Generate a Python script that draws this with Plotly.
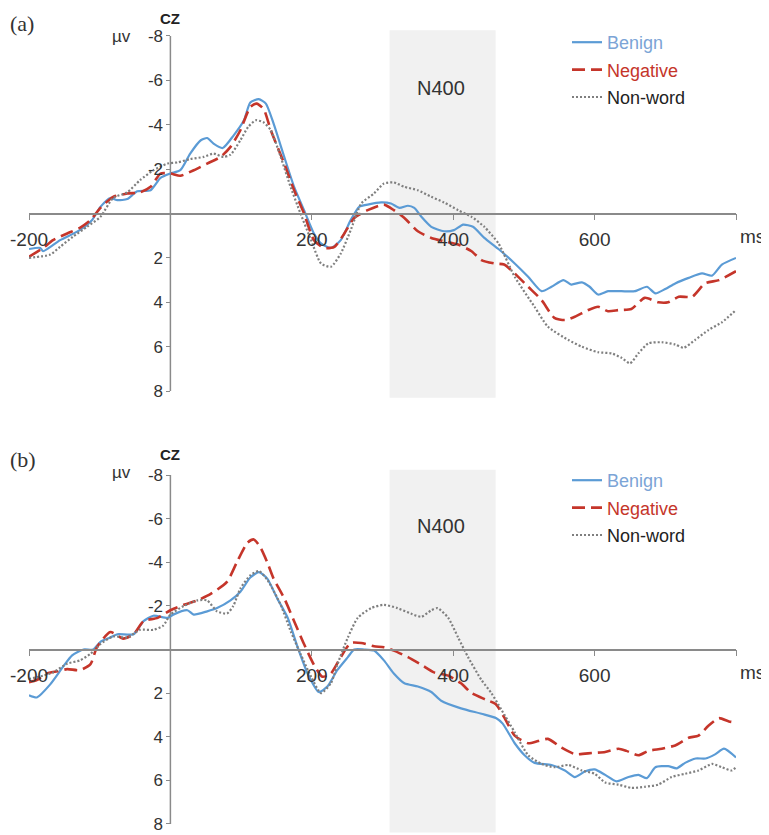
import plotly.graph_objects as go

# ---------------- data (time in ms, amplitude in µV) ----------------
a_benign_t = [-200, -184, -180, -156, -128, -111, -99, -85, -75, -61, -47, -28, -14, 0, 14, 28, 43, 52, 61, 74, 89, 104, 113, 125, 135, 146, 161, 175, 189, 203, 213, 227, 241, 255, 267, 279, 298, 312, 324, 336, 345, 355, 369, 387, 401, 414, 428, 444, 464, 487, 506, 525, 539, 556, 567, 582, 593, 605, 619, 638, 657, 674, 686, 700, 714, 733, 752, 766, 780, 800]
a_benign_v = [1.6, 1.55, 1.7, 1.2, 0.75, 0.3, -0.3, -0.7, -0.6, -0.65, -1.0, -1.05, -1.6, -1.8, -1.95, -2.7, -3.3, -3.4, -3.15, -2.95, -3.5, -4.2, -5.0, -5.15, -4.95, -4.05, -2.55, -1.2, -0.15, 0.9, 1.35, 1.55, 1.2, 0.3, -0.3, -0.4, -0.5, -0.45, -0.25, -0.35, -0.25, 0.15, 0.6, 0.8, 0.75, 0.5, 0.6, 1.1, 1.6, 2.25, 2.85, 3.5, 3.3, 3.0, 3.2, 3.1, 3.3, 3.65, 3.5, 3.5, 3.5, 3.3, 3.6, 3.4, 3.15, 2.9, 2.7, 2.8, 2.3, 2.0]

a_negative_t = [-200, -180, -166, -146, -128, -113, -99, -81, -61, -43, -28, -14, 0, 14, 33, 52, 71, 85, 99, 113, 122, 132, 142, 161, 175, 189, 203, 217, 232, 246, 260, 279, 302, 316, 331, 350, 369, 387, 407, 426, 440, 458, 472, 487, 506, 525, 543, 558, 572, 591, 605, 619, 634, 652, 671, 690, 704, 719, 738, 756, 776, 800]
a_negative_v = [1.95, 1.55, 1.2, 0.9, 0.65, 0.3, -0.25, -0.75, -0.9, -0.95, -1.2, -1.8, -1.8, -1.7, -1.95, -2.25, -2.55, -3.0, -3.75, -4.8, -4.95, -4.7, -3.75, -2.25, -1.05, 0.0, 1.2, 1.55, 1.5, 0.9, 0.2, -0.15, -0.4, -0.15, 0.2, 0.8, 1.1, 1.25, 1.4, 1.7, 2.1, 2.25, 2.3, 2.7, 3.3, 3.9, 4.7, 4.8, 4.65, 4.35, 4.2, 4.4, 4.35, 4.3, 3.8, 4.0, 4.0, 3.75, 3.75, 3.15, 3.0, 2.6]

a_nonword_t = [-200, -170, -156, -138, -118, -99, -81, -61, -43, -24, -4, 10, 28, 47, 61, 75, 85, 99, 110, 121, 132, 142, 156, 170, 184, 199, 213, 227, 241, 255, 270, 288, 302, 316, 331, 350, 369, 387, 407, 426, 444, 464, 487, 515, 534, 563, 582, 605, 624, 638, 650, 662, 676, 695, 714, 726, 742, 761, 780, 800]
a_nonword_v = [2.0, 1.85, 1.5, 1.05, 0.6, 0.15, -0.7, -0.95, -1.5, -1.95, -2.25, -2.3, -2.45, -2.55, -2.7, -2.55, -2.65, -3.3, -3.9, -4.2, -4.1, -3.75, -2.55, -1.2, 0.0, 1.2, 2.25, 2.4, 1.8, 0.75, -0.45, -0.9, -1.35, -1.4, -1.2, -1.05, -0.75, -0.5, -0.15, 0.15, 0.6, 1.35, 2.85, 4.2, 5.1, 5.7, 6.0, 6.25, 6.3, 6.5, 6.75, 6.3, 5.85, 5.8, 5.9, 6.05, 5.7, 5.25, 4.9, 4.35]

b_benign_t = [-200, -189, -170, -152, -139, -123, -109, -99, -85, -75, -52, -38, -24, -4, 4, 24, 33, 52, 66, 85, 99, 113, 125, 137, 151, 166, 180, 194, 210, 222, 236, 251, 260, 274, 288, 302, 316, 331, 350, 369, 383, 411, 440, 461, 470, 487, 501, 515, 539, 558, 572, 586, 600, 615, 631, 648, 662, 674, 686, 704, 716, 728, 743, 757, 771, 783, 800]
b_benign_v = [2.1, 2.2, 1.6, 0.8, 0.27, 0.0, 0.0, -0.35, -0.55, -0.7, -0.7, -1.3, -1.55, -1.45, -1.6, -1.8, -1.6, -1.75, -1.9, -2.25, -2.65, -3.3, -3.55, -3.25, -2.35, -1.45, -0.1, 1.1, 1.95, 1.7, 0.95, 0.35, 0.0, 0.0, 0.05, 0.5, 1.1, 1.55, 1.7, 1.95, 2.35, 2.7, 2.95, 3.15, 3.4, 4.3, 4.85, 5.2, 5.3, 5.55, 5.85, 5.6, 5.5, 5.75, 6.05, 5.85, 5.75, 5.9, 5.4, 5.35, 5.45, 5.2, 5.0, 5.0, 4.8, 4.55, 4.95]

b_negative_t = [-200, -189, -175, -160, -146, -128, -113, -104, -85, -67, -52, -38, -18, 0, 19, 38, 57, 80, 94, 109, 118, 127, 137, 146, 161, 175, 189, 203, 215, 227, 241, 255, 270, 288, 302, 316, 336, 355, 373, 393, 411, 426, 446, 460, 472, 487, 506, 520, 534, 553, 572, 596, 615, 634, 645, 662, 676, 695, 714, 733, 747, 761, 776, 790, 800]
b_negative_v = [1.5, 1.4, 1.1, 1.0, 0.9, 0.95, 0.67, -0.1, -0.8, -0.5, -0.7, -1.3, -1.45, -1.8, -2.05, -2.25, -2.55, -3.1, -4.0, -4.9, -5.05, -4.7, -4.0, -3.25, -2.35, -1.3, -0.25, 0.7, 1.25, 1.1, 0.35, -0.3, -0.3, -0.15, -0.1, 0.05, 0.35, 0.7, 1.05, 1.2, 1.55, 2.0, 2.3, 2.5, 3.1, 3.95, 4.3, 4.2, 4.1, 4.5, 4.8, 4.75, 4.7, 4.55, 4.65, 4.85, 4.65, 4.55, 4.4, 4.05, 3.95, 3.5, 3.15, 3.3, 3.35]

b_nonword_t = [-200, -180, -166, -146, -128, -113, -99, -81, -61, -43, -24, -10, 0, 19, 38, 52, 66, 80, 89, 99, 113, 125, 137, 156, 170, 184, 199, 213, 227, 236, 251, 265, 284, 302, 321, 340, 355, 369, 378, 393, 407, 421, 440, 454, 468, 487, 506, 525, 543, 563, 582, 600, 615, 634, 652, 671, 690, 709, 728, 747, 766, 780, 794, 800]
b_nonword_v = [1.35, 1.2, 1.05, 0.65, 0.5, 0.2, -0.25, -0.6, -0.55, -0.9, -0.9, -1.1, -1.6, -2.0, -2.25, -2.25, -1.75, -1.65, -2.0, -2.8, -3.4, -3.6, -3.2, -2.05, -0.85, 0.2, 1.25, 2.0, 1.55, 0.7, -0.55, -1.45, -1.9, -2.05, -1.9, -1.65, -1.5, -1.8, -1.9, -1.45, -0.55, 0.35, 1.4, 2.0, 2.75, 3.8, 4.85, 5.25, 5.4, 5.3, 5.55, 5.7, 6.1, 6.2, 6.35, 6.3, 6.2, 5.85, 5.7, 5.55, 5.25, 5.4, 5.55, 5.4]

x_tickvals = [-200, 200, 400, 600, 800]
x_ticktext = ["-200", "200", "400", "600", ""]
y_tickvals = [-8, -6, -4, -2, 2, 4, 6, 8]
y_ticktext = ["-8", "-6", "-4", "-2", "2", "4", "6", "8"]
n400_window = [310, 460]
series_names = ["Benign", "Negative", "Non-word"]
panel_labels = ["(a)", "(b)"]

# ---------------- layout geometry ----------------
# The page body has an 8px margin, so the figure is made 8px smaller and all
# reference pixel positions are shifted by that amount.
OFF = 8
W, H = 769 - OFF, 835 - OFF
FONT = "Liberation Sans, Arial, sans-serif"
X_L, X_R = 29, 736            # reference pixel of -200 ms and 800 ms
ZERO_X = X_L + (X_R - X_L) * 200 / 1000
panels = [
    dict(zero=213.5, s=22.2, top=-8.3, bottom=8.3, legend_top=24),
    dict(zero=649.5, s=21.8, top=-8.3, bottom=8.4, legend_top=462),
]


def px_x(p):
    return (p - OFF) / W


def px_y(p):
    return 1 - (p - OFF) / H


line_styles = [
    dict(color="#5b9bd5", width=2.2, dash="solid"),
    dict(color="#c5352a", width=2.6, dash="13px,6px"),
    dict(color="#7f7f7f", width=2.2, dash="2px,2px"),
]
name_colors = ["#7ba4d6", "#c5352a", "#222222"]

data = [
    [(a_benign_t, a_benign_v), (a_negative_t, a_negative_v), (a_nonword_t, a_nonword_v)],
    [(b_benign_t, b_benign_v), (b_negative_t, b_negative_v), (b_nonword_t, b_nonword_v)],
]

fig = go.Figure()
annotations = []
shapes = []

for i, (p, series) in enumerate(zip(panels, data)):
    sfx = "" if i == 0 else str(i + 1)
    xa, ya = "x" + sfx, "y" + sfx
    leg = "legend" + sfx
    S = p["s"]
    for j, (t, v) in enumerate(series):
        fig.add_trace(go.Scatter(
            x=t, y=v, mode="lines", xaxis=xa, yaxis=ya,
            line=dict(shape="spline", smoothing=0.6, **line_styles[j]),
            name="<span style='color:%s'>%s</span>" % (name_colors[j], series_names[j]),
            legend=leg, legendgroup="g%d_%d" % (i, j),
        ))
    top_px = p["zero"] + p["top"] * S
    bot_px = min(p["zero"] + p["bottom"] * S, 835)
    fig.layout["xaxis" + sfx] = dict(
        domain=[px_x(X_L), px_x(X_R)], range=[-200, 800], anchor="free",
        position=px_y(p["zero"]), showline=True, linecolor="#8a8a8a", linewidth=1.5,
        ticks="outside", ticklen=6, tickwidth=1.2, tickcolor="#8a8a8a",
        tickvals=x_tickvals, ticktext=x_ticktext, ticklabelstandoff=3,
        tickfont=dict(family=FONT, size=19, color="#333333"), ticklabeloverflow="allow",
        showgrid=False, zeroline=False, fixedrange=True, automargin=False,
    )
    fig.layout["yaxis" + sfx] = dict(
        domain=[px_y(bot_px), px_y(top_px)],
        range=[(bot_px - p["zero"]) / S, p["top"]],
        anchor="free", position=px_x(ZERO_X), showline=False,
        ticks="outside", ticklen=4, tickwidth=1.2, tickcolor="#8a8a8a",
        tickvals=y_tickvals, ticktext=y_ticktext, ticklabeloverflow="allow",
        tickfont=dict(family=FONT, size=17, color="#333333"),
        showgrid=False, zeroline=False, fixedrange=True, automargin=False,
    )
    # N400 window shading
    shapes.append(dict(type="rect", xref=xa, yref=ya, x0=n400_window[0], x1=n400_window[1],
                       y0=-8.25, y1=8.5, fillcolor="#f1f1f1", line=dict(width=0), layer="below"))
    # vertical axis line (from -8 to 8)
    shapes.append(dict(type="line", xref=xa, yref=ya, x0=0, x1=0, y0=-8, y1=8,
                       line=dict(color="#8a8a8a", width=1.5), layer="below"))
    annotations += [
        dict(text="N400", xref=xa, yref=ya, x=sum(n400_window) / 2 - 2, y=-5.65, showarrow=False,
             xanchor="center", yanchor="middle",
             font=dict(family=FONT, size=20, color="#333333")),
        dict(text=panel_labels[i], xref="paper", yref="paper", x=px_x(OFF), xanchor="left",
             y=px_y(p["zero"] - 190), yanchor="middle", showarrow=False,
             font=dict(family="Liberation Serif, Times New Roman, serif", size=22, color="#333333")),
        dict(text="<b>CZ</b>", xref="paper", yref="paper", x=px_x(ZERO_X), xanchor="center",
             y=px_y(p["zero"] - 195), yanchor="middle",
             showarrow=False, font=dict(family=FONT, size=15, color="#222222")),
        dict(text="µv", xref="paper", yref="paper", x=px_x(122), xanchor="center",
             y=px_y(p["zero"] - 177), yanchor="middle",
             showarrow=False, font=dict(family=FONT, size=17, color="#333333")),
        dict(text="ms", xref="paper", yref="paper", x=px_x(738), xanchor="left",
             y=px_y(p["zero"] + 23), yanchor="middle", showarrow=False,
             font=dict(family=FONT, size=19, color="#333333")),
    ]
    fig.layout[leg] = dict(
        x=px_x(567), xanchor="left", y=px_y(p["legend_top"]), yanchor="top",
        bgcolor="rgba(0,0,0,0)", font=dict(family=FONT, size=18),
        traceorder="grouped", tracegroupgap=1,
    )

fig.update_layout(
    width=W, height=H, margin=dict(l=0, r=0, t=0, b=0, autoexpand=False),
    paper_bgcolor="white", plot_bgcolor="white",
    showlegend=True, annotations=annotations, shapes=shapes,
)

fig.write_html("out.html")
